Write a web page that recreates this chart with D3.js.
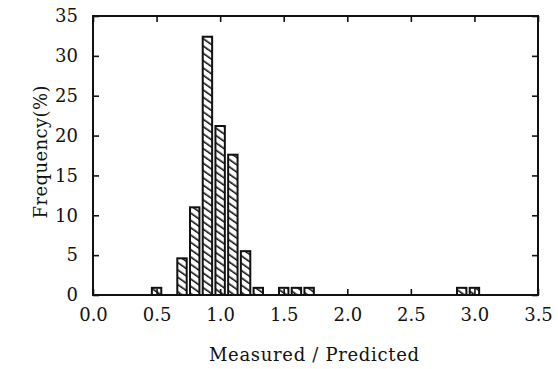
<!DOCTYPE html>
<html>
<head>
<meta charset="utf-8">
<script src="https://cdn.jsdelivr.net/npm/d3@7"></script>
<style>
  body { margin: 0; background: #fff; }
  svg text { font-family: "DejaVu Serif", serif !important; fill: #111; }
</style>
</head>
<body>
<script>
// bin centres (Measured / Predicted) and frequency in %
let binCentres = [0.5, 0.7, 0.8, 0.9, 1.0, 1.1, 1.2, 1.3, 1.5, 1.6, 1.7, 2.9, 3.0];
let frequency  = [0.9, 4.6, 11.0, 32.4, 21.2, 17.6, 5.5, 0.9, 0.9, 0.9, 0.9, 0.9, 0.9];
let xTicks = [0.0, 0.5, 1.0, 1.5, 2.0, 2.5, 3.0, 3.5];
let yTicks = [0, 5, 10, 15, 20, 25, 30, 35];

let width = 558, height = 369;
let plotLeft = 93, plotRight = 538, plotTop = 16, plotBottom = 295;

let svg = d3.select('body')
    .append('svg')
        .attr('width', width)
        .attr('height', height);

// hatch pattern
let pat = svg.append('defs').append('pattern')
    .attr('id', 'hatch')
    .attr('patternUnits', 'userSpaceOnUse')
    .attr('width', 6)
    .attr('height', 6)
    .attr('patternTransform', 'rotate(-55)');
pat.append('rect').attr('width', 6).attr('height', 6).attr('fill', '#fff');
pat.append('line')
    .attr('x1', 0).attr('y1', 0).attr('x2', 0).attr('y2', 6)
    .attr('stroke', '#111').attr('stroke-width', 3.2);

let x = d3.scaleLinear().domain([0, 3.5]).range([plotLeft, plotRight]);
let y = d3.scaleLinear().domain([0, 35]).range([plotBottom, plotTop]);

// ============================== BARS ==============================
let halfW = 0.037;
svg.selectAll('rect.bar')
    .data(binCentres).enter()
    .append('rect')
        .attr('class', 'bar')
        .attr('x', function (d) { return x(d - halfW) })
        .attr('width', function (d) { return x(d + halfW) - x(d - halfW) })
        .attr('y', function (d, i) { return y(frequency[i]) })
        .attr('height', function (d, i) { return y(0) - y(frequency[i]) })
        .attr('fill', 'url(#hatch)')
        .attr('stroke', '#111')
        .attr('stroke-width', 2);

// ============================== AXES ==============================
function styleAxis(g) {
    g.attr('font-family', null);
    g.select('.domain').remove();
    g.selectAll('.tick line').attr('stroke', '#111').attr('stroke-width', 1.6);
    g.selectAll('.tick text').attr('font-size', 18).attr('fill', '#111');
}

svg.append('g')
    .attr('transform', 'translate(0,' + plotBottom + ')')
    .call(d3.axisBottom(x).tickValues(xTicks).tickSize(-6).tickPadding(13).tickFormat(d3.format('.1f')))
    .call(styleAxis);

svg.append('g')
    .attr('transform', 'translate(0,' + plotTop + ')')
    .call(d3.axisTop(x).tickValues(xTicks).tickSize(-6).tickFormat(''))
    .call(styleAxis);

svg.append('g')
    .attr('transform', 'translate(' + plotLeft + ',0)')
    .call(d3.axisLeft(y).tickValues(yTicks).tickSize(-6).tickPadding(15))
    .call(styleAxis);

svg.append('g')
    .attr('transform', 'translate(' + plotRight + ',0)')
    .call(d3.axisRight(y).tickValues(yTicks).tickSize(-6).tickFormat(''))
    .call(styleAxis);

// frame
svg.append('rect')
    .attr('x', plotLeft).attr('y', plotTop)
    .attr('width', plotRight - plotLeft).attr('height', plotBottom - plotTop)
    .attr('fill', 'none')
    .attr('stroke', '#111')
    .attr('stroke-width', 2);

// ============================== LABELS ==============================
svg.append('text')
    .attr('x', 314)
    .attr('y', 361)
    .attr('text-anchor', 'middle')
    .attr('font-size', 18)
    .attr('textLength', 210)
    .text('Measured / Predicted');

svg.append('text')
    .attr('transform', 'translate(47,152) rotate(-90)')
    .attr('text-anchor', 'middle')
    .attr('font-size', 18)
    .attr('textLength', 133)
    .text('Frequency(%)');
</script>
</body>
</html>
